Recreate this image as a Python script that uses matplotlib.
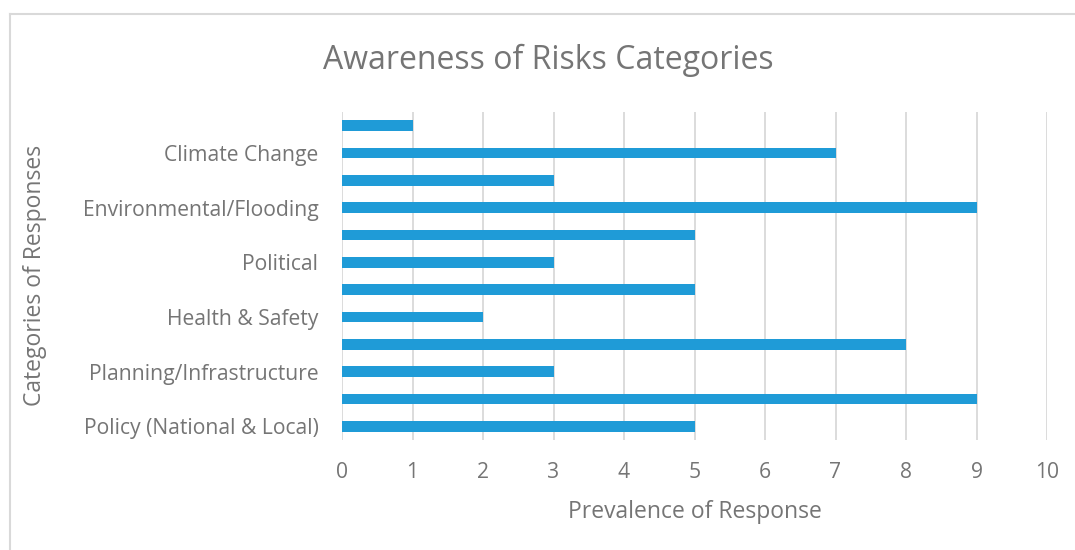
import numpy as np
import matplotlib.pyplot as plt
from matplotlib.lines import Line2D

plt.rcParams['font.family'] = ['Open Sans', 'DejaVu Sans']

# bottom to top, only every other label is shown in the reference
categories = ['Policy (National & Local)', '', 'Planning/Infrastructure', '',
              'Health & Safety', '', 'Political', '',
              'Environmental/Flooding', '', 'Climate Change', '']
values = [5, 9, 3, 8, 2, 5, 3, 5, 9, 3, 7, 1]
xticks = [0, 1, 2, 3, 4, 5, 6, 7, 8, 9, 10]

txt = '#757575'
fig = plt.figure(figsize=(10.75, 5.5), dpi=100)
ax = fig.add_axes([342 / 1075, 1 - 440 / 550, (1047 - 342) / 1075, 328 / 550])

y = np.arange(len(values))
ax.barh(y, values, height=0.38, color='#1f9bd7', zorder=3)
ax.set_ylim(-0.5, len(values) - 0.5)
ax.set_xlim(0, 10)
ax.set_xticks(xticks)
ax.set_yticks(y)
ax.set_yticklabels(categories)
ax.grid(axis='x', color='#d9d9d9', linewidth=1.3, zorder=0)
for s in ax.spines.values():
    s.set_visible(False)
ax.tick_params(length=0, labelsize=15.2, labelcolor=txt)
ax.tick_params(axis='x', pad=16)
ax.tick_params(axis='y', pad=17)

ax.set_xlabel('Prevalence of Response', fontsize=16.5, color=txt, labelpad=12)
fig.text(0.033, 0.5, 'Categories of Responses', rotation=90, fontsize=16.5,
         color=txt, ha='center', va='center')
fig.text(0.51, 0.89, 'Awareness of Risks Categories', fontsize=23,
         color=txt, ha='center', va='center')

# chart area frame
fig.add_artist(Line2D([10 / 1075, 1], [1 - 14 / 550, 1 - 14 / 550],
                      transform=fig.transFigure, color='#d9d9d9', lw=1.5))
fig.add_artist(Line2D([10 / 1075, 10 / 1075], [0, 1 - 14 / 550],
                      transform=fig.transFigure, color='#d9d9d9', lw=1.5))

fig.savefig('out.png', dpi=100, facecolor='white')
